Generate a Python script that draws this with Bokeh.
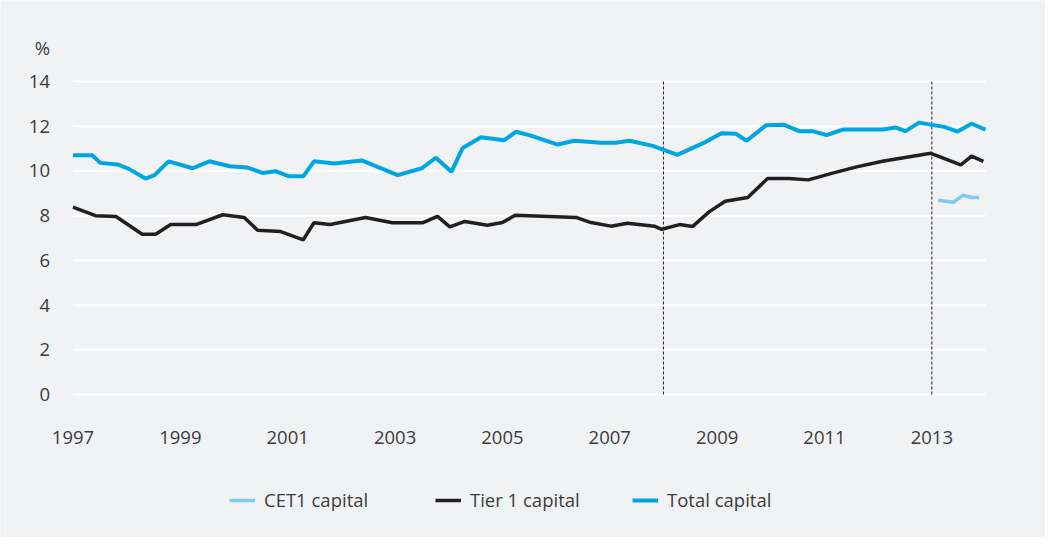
from bokeh.plotting import figure
from bokeh.models import Range1d, Legend, LegendItem, ColumnDataSource
from bokeh.core.properties import value
from bokeh.embed import file_html
from bokeh.resources import INLINE

# ---- data ----
total_x = [1997.00, 1997.36, 1997.51, 1997.83, 1998.05, 1998.35, 1998.52, 1998.78, 1999.23,
           1999.54, 1999.92, 2000.25, 2000.53, 2000.77, 2001.03, 2001.29, 2001.49, 2001.87,
           2002.38, 2003.05, 2003.50, 2003.76, 2004.05, 2004.26, 2004.60, 2005.03, 2005.25,
           2005.50, 2006.03, 2006.34, 2006.83, 2007.11, 2007.37, 2007.80, 2008.26, 2008.79,
           2009.08, 2009.35, 2009.55, 2009.91, 2010.25, 2010.53, 2010.78, 2011.04, 2011.34,
           2012.08, 2012.33, 2012.51, 2012.76, 2013.00, 2013.23, 2013.48, 2013.74, 2014.00]
total_y = [10.70, 10.70, 10.36, 10.29, 10.08, 9.66, 9.81, 10.43, 10.12,
           10.43, 10.21, 10.15, 9.91, 9.99, 9.76, 9.76, 10.43, 10.33,
           10.47, 9.81, 10.12, 10.59, 9.96, 11.03, 11.51, 11.37, 11.75,
           11.60, 11.18, 11.35, 11.26, 11.26, 11.35, 11.12, 10.72, 11.30,
           11.69, 11.66, 11.35, 12.04, 12.06, 11.78, 11.78, 11.60, 11.85,
           11.85, 11.94, 11.78, 12.16, 12.06, 11.97, 11.76, 12.11, 11.85]

tier1_x = [1997.00, 1997.42, 1997.80, 1998.29, 1998.54, 1998.82, 1999.29, 1999.79, 2000.19,
           2000.44, 2000.87, 2001.29, 2001.49, 2001.79, 2002.45, 2002.95, 2003.51, 2003.79,
           2004.02, 2004.30, 2004.72, 2005.00, 2005.24, 2006.37, 2006.65, 2007.02, 2007.33,
           2007.83, 2007.97, 2008.30, 2008.54, 2008.85, 2009.15, 2009.57, 2009.94, 2010.34,
           2010.70, 2011.15, 2011.58, 2012.08, 2012.98, 2013.54, 2013.74, 2013.96]
tier1_y = [8.38, 8.00, 7.96, 7.17, 7.17, 7.60, 7.60, 8.04, 7.92,
           7.35, 7.29, 6.92, 7.68, 7.60, 7.92, 7.68, 7.68, 7.97,
           7.50, 7.74, 7.57, 7.69, 8.02, 7.92, 7.69, 7.53, 7.66,
           7.53, 7.39, 7.60, 7.51, 8.17, 8.64, 8.81, 9.66, 9.66,
           9.60, 9.90, 10.17, 10.43, 10.79, 10.27, 10.66, 10.43]

cet1_x = [2013.12, 2013.40, 2013.58, 2013.74, 2013.88]
cet1_y = [8.69, 8.60, 8.91, 8.81, 8.81]

break_years = [2008, 2013]
x_ticks = [1997, 1999, 2001, 2003, 2005, 2007, 2009, 2011, 2013]
x_tick_labels = ["1997", "1999", "2001", "2003", "2005", "2007", "2009", "2011", "2013"]
y_ticks = [0, 2, 4, 6, 8, 10, 12, 14]
y_tick_labels = ["0", "2", "4", "6", "8", "10", "12", "14"]
x_start, x_end = 1997, 2014
unit_label = "%"

series_names = ["CET1 capital", "Tier 1 capital", "Total capital"]
series_colors = ["#7fcaf0", "#231f20", "#00a6e2"]
series_widths = [3.5, 3.5, 4]
legend_left = [229, 435, 632]  # pixel position of each legend entry

BG = "#f1f2f4"
TEXT = "#3c3c3c"
FONT = "Open Sans"
FS = "18.5px"

# the frame fills the whole figure; axes, labels and legend are drawn inside it
p = figure(width=1045, height=537, output_backend="svg", toolbar_location=None,
           x_range=Range1d(1995.65, 2015.117), y_range=Range1d(-6.396, 17.623),
           min_border_left=0, min_border_right=0, min_border_top=0, min_border_bottom=0)
p.background_fill_color = BG
p.border_fill_color = BG
p.outline_line_color = None
p.axis.visible = False
p.grid.visible = False

# horizontal gridlines
p.segment(x0=[x_start] * len(y_ticks), y0=y_ticks, x1=[x_end] * len(y_ticks), y1=y_ticks,
          line_color="white", line_width=2)

# y tick labels
ysrc = ColumnDataSource(dict(x=[x_start] * len(y_ticks), y=y_ticks, t=y_tick_labels))
p.text(x="x", y="y", text="t", source=ysrc, x_offset=-23, text_align="right",
       text_baseline="middle", text_font=value(FONT), text_font_size=value(FS),
       text_color=TEXT)

# unit label above the axis
p.text(x=[x_start], y=[y_ticks[-1]], text=[unit_label], x_offset=-23, y_offset=-34,
       text_align="right", text_baseline="middle", text_font=value(FONT),
       text_font_size=value(FS), text_color=TEXT)

# x tick labels
xsrc = ColumnDataSource(dict(x=x_ticks, y=[0] * len(x_ticks), t=x_tick_labels))
p.text(x="x", y="y", text="t", source=xsrc, y_offset=43, text_align="center",
       text_baseline="middle", text_font=value(FONT), text_font_size=value(FS),
       text_color=TEXT)

for yr in break_years:
    p.segment(x0=yr, y0=y_ticks[0], x1=yr, y1=y_ticks[-1], line_color="#231f20",
              line_width=1, line_dash="3 2")

renderers = [
    p.line(cet1_x, cet1_y, line_color=series_colors[0], line_width=series_widths[0]),
    p.line(tier1_x, tier1_y, line_color=series_colors[1], line_width=series_widths[1]),
    p.line(total_x, total_y, line_color=series_colors[2], line_width=series_widths[2]),
]

for name, r, lx in zip(series_names, renderers, legend_left):
    lg = Legend(items=[LegendItem(label=name, renderers=[r])],
                orientation="horizontal", location=(lx, 25),
                padding=0, margin=0, spacing=0, glyph_width=26, glyph_height=20,
                label_height=20, label_standoff=9,
                label_text_font=FONT, label_text_font_size=FS, label_text_color=TEXT,
                border_line_color=None, background_fill_alpha=0)
    p.add_layout(lg)

open("out.html", "w").write(file_html(p, INLINE))
